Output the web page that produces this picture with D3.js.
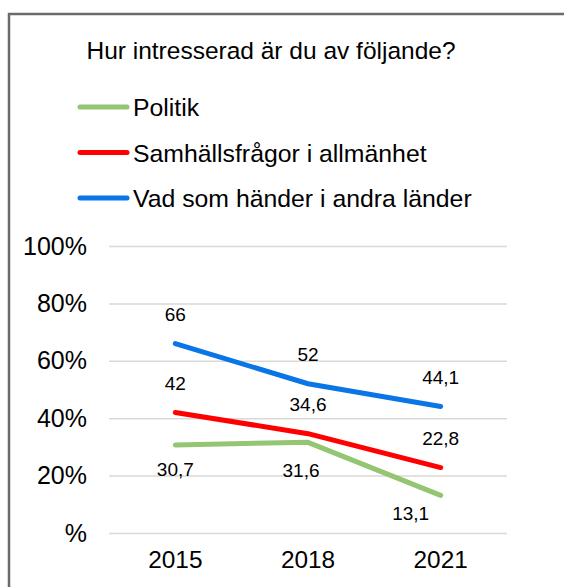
<!DOCTYPE html>
<html>
<head>
<meta charset="utf-8">
<script src="https://cdn.jsdelivr.net/npm/d3@7"></script>
<style>
  body { margin: 0; background: #fff; }
  text { font-family: "Liberation Sans", Arial, sans-serif; fill: #000; }
</style>
</head>
<body>
<div class="one"></div>
<script>
// data
const years = ["2015", "2018", "2021"];
const seriesNames = ["Politik", "Samhällsfrågor i allmänhet", "Vad som händer i andra länder"];
const politik = [30.7, 31.6, 13.1];
const samhalle = [42, 34.6, 22.8];
const utland = [66, 52, 44.1];
const yTicks = [0, 20, 40, 60, 80, 100];
const yTickLabels = ["%", "20%", "40%", "60%", "80%", "100%"];

let colors = ["#93c572", "#ff0000", "#0a75e6"];
let values = [politik, samhalle, utland];
// label nudges per series/point (dx, dy) - like the hand moved excel labels
let nudge = [
  [[0, 25], [-7, 28], [-30, 18]],
  [[0, -29], [0, -29], [0, -29]],
  [[0, -29], [0, -29], [0, -29]]
];

let width = 564, height = 587;
let plot = {left: 109, right: 507, top: 246, bottom: 533};

let svg = d3.select(".one").append("svg")
  .attr("width", width)
  .attr("height", height);

// frame
svg.append("path")
  .attr("d", "M9,587 L9,14 L564,14")
  .attr("fill", "none")
  .attr("stroke", "#6b6b6b")
  .attr("stroke-width", 2.5);

svg.append("text")
  .attr("x", 271)
  .attr("y", 59)
  .attr("text-anchor", "middle")
  .style("font-size", "24.5px")
  .text("Hur intresserad är du av följande?");

// legend
let legend = svg.append("g").selectAll("g")
  .data(seriesNames)
  .join("g")
  .attr("transform", (d, i) => "translate(0," + (107 + i * 45.5) + ")");

legend.append("line")
  .attr("x1", 80).attr("x2", 127)
  .attr("stroke", (d, i) => colors[i])
  .attr("stroke-width", 5)
  .attr("stroke-linecap", "round");

legend.append("text")
  .attr("x", 133)
  .attr("y", 9)
  .style("font-size", "24.8px")
  .text(d => d);

let xScale = d3.scaleBand().domain(years).range([plot.left, plot.right]);
let yScale = d3.scaleLinear().domain([0, 100]).range([plot.bottom, plot.top]);

let yAxis = d3.axisLeft(yScale)
  .tickValues(yTicks)
  .tickSize(-(plot.right - plot.left))
  .tickPadding(22)
  .tickFormat((d, i) => yTickLabels[i]);

let gy = svg.append("g")
  .attr("transform", "translate(" + plot.left + ",0)")
  .call(yAxis);
gy.select(".domain").remove();
gy.selectAll("line").attr("stroke", "#d9d9d9").attr("stroke-width", 1.5);
gy.selectAll("text").style("font-size", "25px").attr("font-family", null);

let xAxis = d3.axisBottom(xScale).tickSize(0).tickPadding(18);
let gx = svg.append("g")
  .attr("transform", "translate(0," + plot.bottom + ")")
  .call(xAxis);
gx.select(".domain").remove();
gx.selectAll("text").style("font-size", "24.4px").attr("font-family", null);

let line = d3.line()
  .x((d, i) => xScale(years[i]) + xScale.bandwidth() / 2)
  .y(d => yScale(d));

svg.append("g").selectAll("path")
  .data(values)
  .join("path")
  .attr("d", line)
  .attr("fill", "none")
  .attr("stroke", (d, i) => colors[i])
  .attr("stroke-width", 5)
  .attr("stroke-linecap", "round")
  .attr("stroke-linejoin", "round");

let fmt = v => String(v).replace(".", ",");
values.forEach((vals, s) => {
  svg.append("g").selectAll("text")
    .data(vals)
    .join("text")
    .attr("x", (d, i) => xScale(years[i]) + xScale.bandwidth() / 2 + nudge[s][i][0])
    .attr("y", (d, i) => yScale(d) + nudge[s][i][1] + 6.5)
    .attr("text-anchor", "middle")
    .style("font-size", "19px")
    .text(fmt);
});
</script>
</body>
</html>
